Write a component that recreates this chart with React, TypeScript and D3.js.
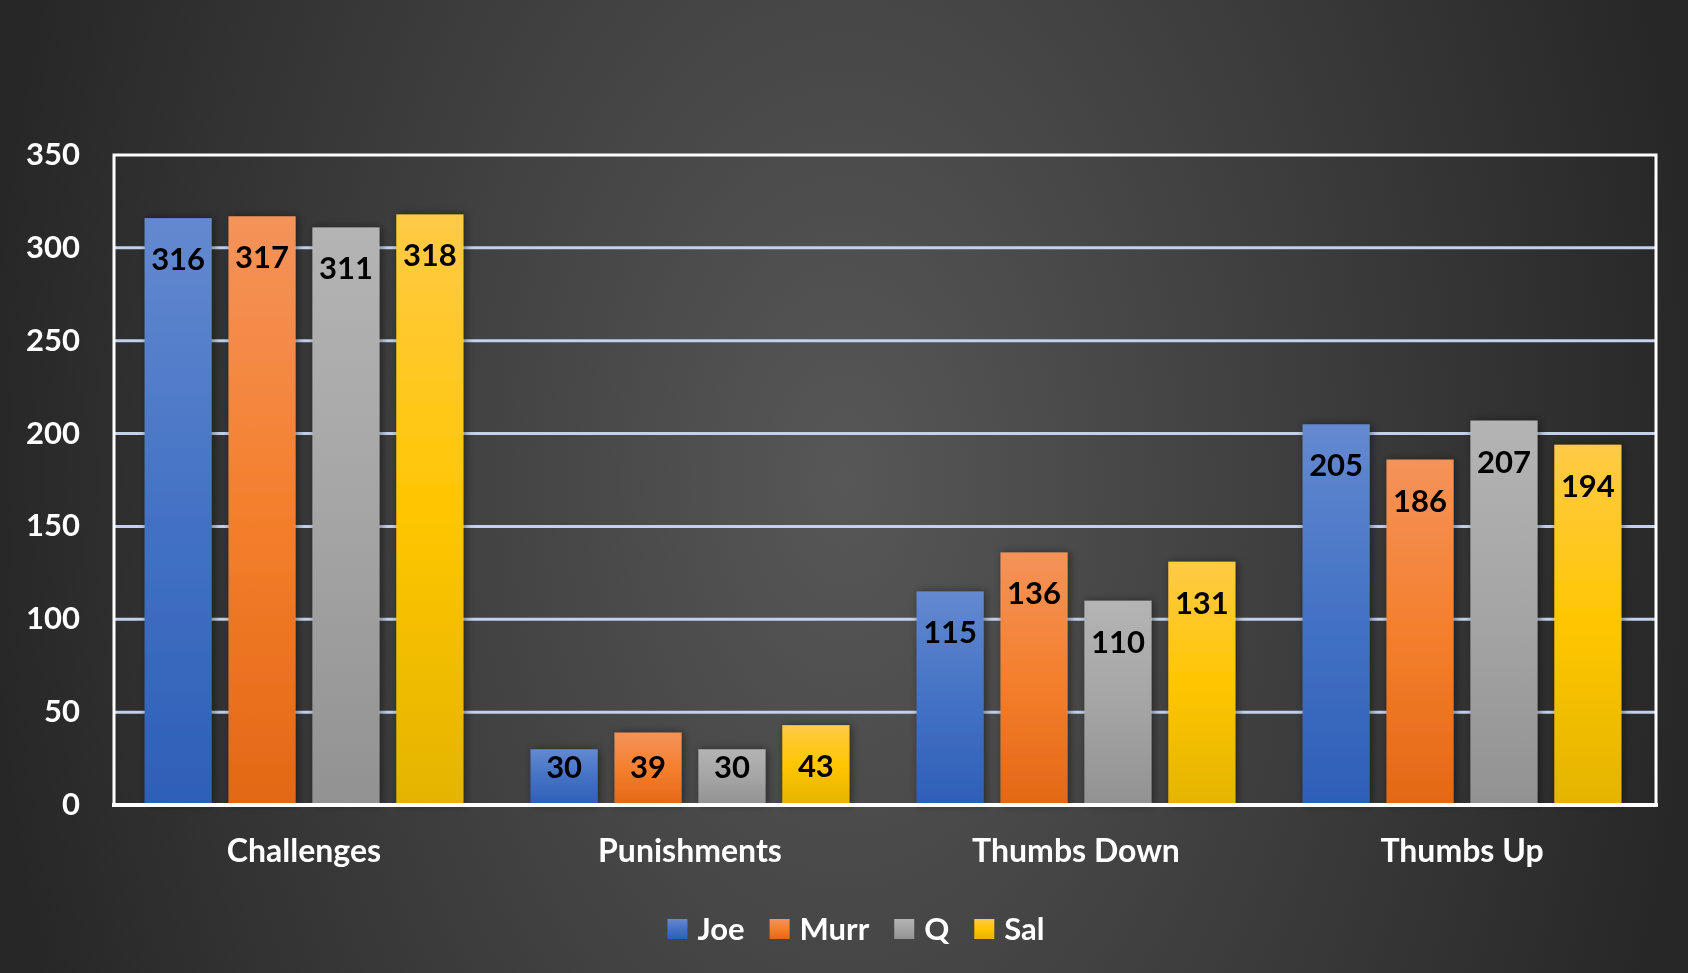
import React, { useEffect, useRef } from "react";
import * as d3 from "d3";

const categories = ["Challenges", "Punishments", "Thumbs Down", "Thumbs Up"];
const seriesNames = ["Joe", "Murr", "Q", "Sal"];
const joeValues = [316, 30, 115, 205];
const murrValues = [317, 39, 136, 186];
const qValues = [311, 30, 110, 207];
const salValues = [318, 43, 131, 194];
const yTicks = [0, 50, 100, 150, 200, 250, 300, 350];

const seriesValues = [joeValues, murrValues, qValues, salValues];
const seriesGradients = [
  ["#6489d0", "#4472c4", "#2e5fb8"],
  ["#f4935a", "#f47f2d", "#e36816"],
  ["#b4b4b4", "#a5a5a5", "#929292"],
  ["#ffca47", "#ffc600", "#e4b400"],
];

const W = 1688;
const H = 973;
const FONT = "Lato, 'Open Sans', sans-serif";

export default function App() {
  const ref = useRef<SVGSVGElement | null>(null);

  useEffect(() => {
    const svg = d3.select(ref.current);
    svg.selectAll("*").remove();

    const left = 114, right = 1656, top = 155, bottom = 805;

    const defs = svg.append("defs");
    const bg = defs
      .append("radialGradient")
      .attr("id", "bg")
      .attr("gradientUnits", "userSpaceOnUse")
      .attr("cx", 844)
      .attr("cy", 480)
      .attr("r", 860)
      .attr("gradientTransform", "translate(844,480) scale(1,1.6) translate(-844,-480)");
    bg.append("stop").attr("offset", 0).attr("stop-color", "#575757");
    bg.append("stop").attr("offset", 1).attr("stop-color", "#272727");

    seriesGradients.forEach((g, i) => {
      const lg = defs
        .append("linearGradient")
        .attr("id", `g${i}`)
        .attr("x1", 0).attr("y1", 0).attr("x2", 0).attr("y2", 1);
      lg.append("stop").attr("offset", 0).attr("stop-color", g[0]);
      lg.append("stop").attr("offset", 0.5).attr("stop-color", g[1]);
      lg.append("stop").attr("offset", 1).attr("stop-color", g[2]);
    });

    const f = defs.append("filter").attr("id", "sh")
      .attr("x", "-20%").attr("y", "-20%").attr("width", "140%").attr("height", "140%");
    f.append("feDropShadow")
      .attr("dx", 2).attr("dy", 0).attr("stdDeviation", 4)
      .attr("flood-color", "#000").attr("flood-opacity", 0.45);

    svg.append("rect").attr("width", W).attr("height", H).attr("fill", "url(#bg)");

    const x0 = d3.scaleBand<string>().domain(categories).range([left - 3, right - 1]).padding(0);
    const C = x0.bandwidth();
    const barW = C / 5.75;
    const step = barW * 1.25;
    const y = d3.scaleLinear().domain([0, 350]).range([bottom, top]);

    // gridlines
    svg.append("g")
      .selectAll("line")
      .data(yTicks.filter((t) => t > 0 && t < 350))
      .join("line")
      .attr("x1", left).attr("x2", right)
      .attr("y1", (d) => y(d)).attr("y2", (d) => y(d))
      .attr("stroke", "#c3d1ec").attr("stroke-width", 3);

    // bars
    const bars = svg.append("g");
    seriesValues.forEach((vals, si) => {
      bars.append("g")
        .selectAll("rect")
        .data(vals)
        .join("rect")
        .attr("x", (_d, ci) => (x0(categories[ci]) as number) + barW / 2 + si * step)
        .attr("y", (d) => y(d))
        .attr("width", barW)
        .attr("height", (d) => y(0) - y(d))
        .attr("fill", `url(#g${si})`)
        .attr("filter", "url(#sh)");
    });

    // frame
    svg.append("rect")
      .attr("x", left).attr("y", top)
      .attr("width", right - left).attr("height", bottom - top)
      .attr("fill", "none").attr("stroke", "#ffffff").attr("stroke-width", 3);
    svg.append("line")
      .attr("x1", left - 2).attr("x2", right + 2)
      .attr("y1", bottom).attr("y2", bottom)
      .attr("stroke", "#ffffff").attr("stroke-width", 4);

    // data labels
    const labels = svg.append("g")
      .attr("font-family", FONT).attr("font-weight", 700).attr("font-size", 31)
      .attr("text-anchor", "middle").attr("fill", "#000");
    seriesValues.forEach((vals, si) => {
      labels.append("g")
        .selectAll("text")
        .data(vals)
        .join("text")
        .attr("x", (_d, ci) => (x0(categories[ci]) as number) + barW / 2 + si * step + barW / 2)
        .attr("y", (d) => Math.min(y(d) + 41, y(0) - 38) + 11)
        .text((d) => String(d));
    });

    // y ticks
    svg.append("g")
      .attr("font-family", FONT).attr("font-weight", 700).attr("font-size", 31)
      .attr("text-anchor", "end").attr("fill", "#fff")
      .selectAll("text")
      .data(yTicks)
      .join("text")
      .attr("x", 80)
      .attr("y", (d) => y(d) + 10)
      .text((d) => String(d));

    // category labels
    svg.append("g")
      .attr("font-family", FONT).attr("font-weight", 700).attr("font-size", 32)
      .attr("text-anchor", "middle").attr("fill", "#fff")
      .selectAll("text")
      .data(categories)
      .join("text")
      .attr("x", (d) => (x0(d) as number) + C / 2)
      .attr("y", 862)
      .text((d) => d);

    // legend
    const leg = svg.append("g")
      .attr("font-family", FONT).attr("font-weight", 700).attr("font-size", 31).attr("fill", "#fff");
    const items = seriesNames.map((name, i) => {
      const g = leg.append("g");
      g.append("rect").attr("x", 0).attr("y", -10).attr("width", 20).attr("height", 20)
        .attr("fill", `url(#g${i})`);
      const t = g.append("text").attr("x", 30).attr("y", 11).text(name);
      const w = (t.node() as SVGTextElement).getComputedTextLength();
      return { g, w: 30 + w };
    });
    const gap = 25;
    const total = d3.sum(items, (d) => d.w) + gap * (items.length - 1);
    let cx = 856 - total / 2;
    items.forEach((it) => {
      it.g.attr("transform", `translate(${cx},929)`);
      cx += it.w + gap;
    });
  }, []);

  return (
    <svg
      ref={ref}
      width={W}
      height={H}
      style={{ position: "fixed", left: 0, top: 0, display: "block" }}
    />
  );
}
